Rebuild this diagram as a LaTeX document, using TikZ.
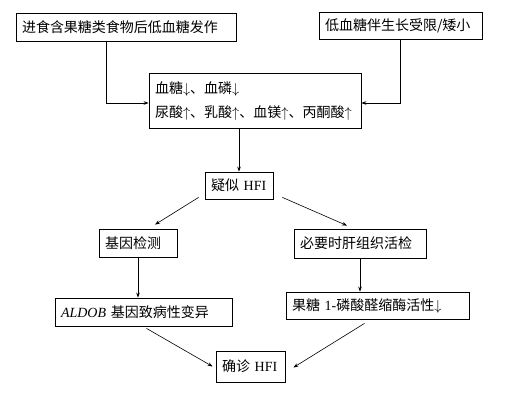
\documentclass[tikz,border=0pt]{standalone}
\usepackage{fontspec}
\setmainfont{Liberation Serif}
\newfontfamily\cjk{Noto Sans CJK SC}
\usetikzlibrary{arrows.meta,positioning}
\newcommand{\zh}[1]{{\cjk #1}}
\tikzset{
  box/.style={
    draw,
    line width=0.8pt,
    align=left,
    inner xsep=6pt,
    inner ysep=2pt,
    font=\fontsize{14pt}{24pt}\selectfont
  },
  flow/.style={-{Stealth[length=5pt,width=3.6pt]}, line width=0.6pt}
}

\begin{document}
\begin{tikzpicture}[x=1pt,y=-1pt]
    \useasboundingbox (0,0) rectangle (509,401);

    \node[box, text width=208pt, minimum height=28pt] (meal) at (126,27)
      {\zh{进食含果糖类食物后低血糖发作}};
    \node[box, text width=151pt, minimum height=27pt] (growth) at (400.5,25.5)
      {\zh{低血糖伴生长受限/矮小}};

    \node[box, text width=200pt, minimum height=55pt] (lab) at (255,100.5)
      {\zh{血糖}$\big\downarrow$\zh{、血磷}$\big\downarrow$\\
       \zh{尿酸}$\big\uparrow$\zh{、乳酸}$\big\uparrow$\zh{、血镁}$\big\uparrow$\zh{、丙酮酸}$\big\uparrow$};

    \node[box, text width=56pt, minimum height=27pt] (suspect) at (239,185.5)
      {\zh{疑似} HFI};

    \node[box, text width=66pt, minimum height=28pt] (gene) at (138,243)
      {\zh{基因检测}};
    \node[box, text width=120pt, minimum height=29pt] (biopsy) at (360,243.5)
      {\zh{必要时肝组织活检}};

    \node[box, text width=165pt, minimum height=28pt] (aldob) at (143.5,312)
      {\textit{ALDOB} \zh{基因致病性变异}};
    \node[box, text width=171pt, minimum height=27pt] (enzyme) at (377.5,305.5)
      {\zh{果糖} 1-\zh{磷酸醛缩酶活性}$\big\downarrow$};

    \node[box, text width=57pt, minimum height=31pt] (confirm) at (250.5,366.5)
      {\zh{确诊} HFI};

    % entry into the lab findings
    \draw[flow] ([xshift=-20pt]meal.south) |- ([yshift=-2.5pt]lab.west);
    \draw[flow] (growth.south) |- ([yshift=-2.5pt]lab.east);
    \draw[flow] (suspect.north |- lab.south) -- (suspect.north);

    \draw[flow] ([xshift=-6pt,yshift=2pt]suspect.south west) -- ([xshift=17pt,yshift=4pt]gene.north);
    \draw[flow] ([xshift=9pt,yshift=2pt]suspect.south east) -- ([xshift=-13pt,yshift=3pt]biopsy.north);

    \draw[flow] (gene.south) -- (gene.south |- aldob.north);
    \draw[flow] (biopsy.south) -- (biopsy.south |- enzyme.north);

    \draw[flow] ([xshift=3pt,yshift=-2pt]aldob.south) -- ([xshift=-3pt]confirm.west);
    \draw[flow] ([xshift=-13pt,yshift=-4pt]enzyme.south) -- ([xshift=8pt,yshift=-1pt]confirm.east);
\end{tikzpicture}
\end{document}
